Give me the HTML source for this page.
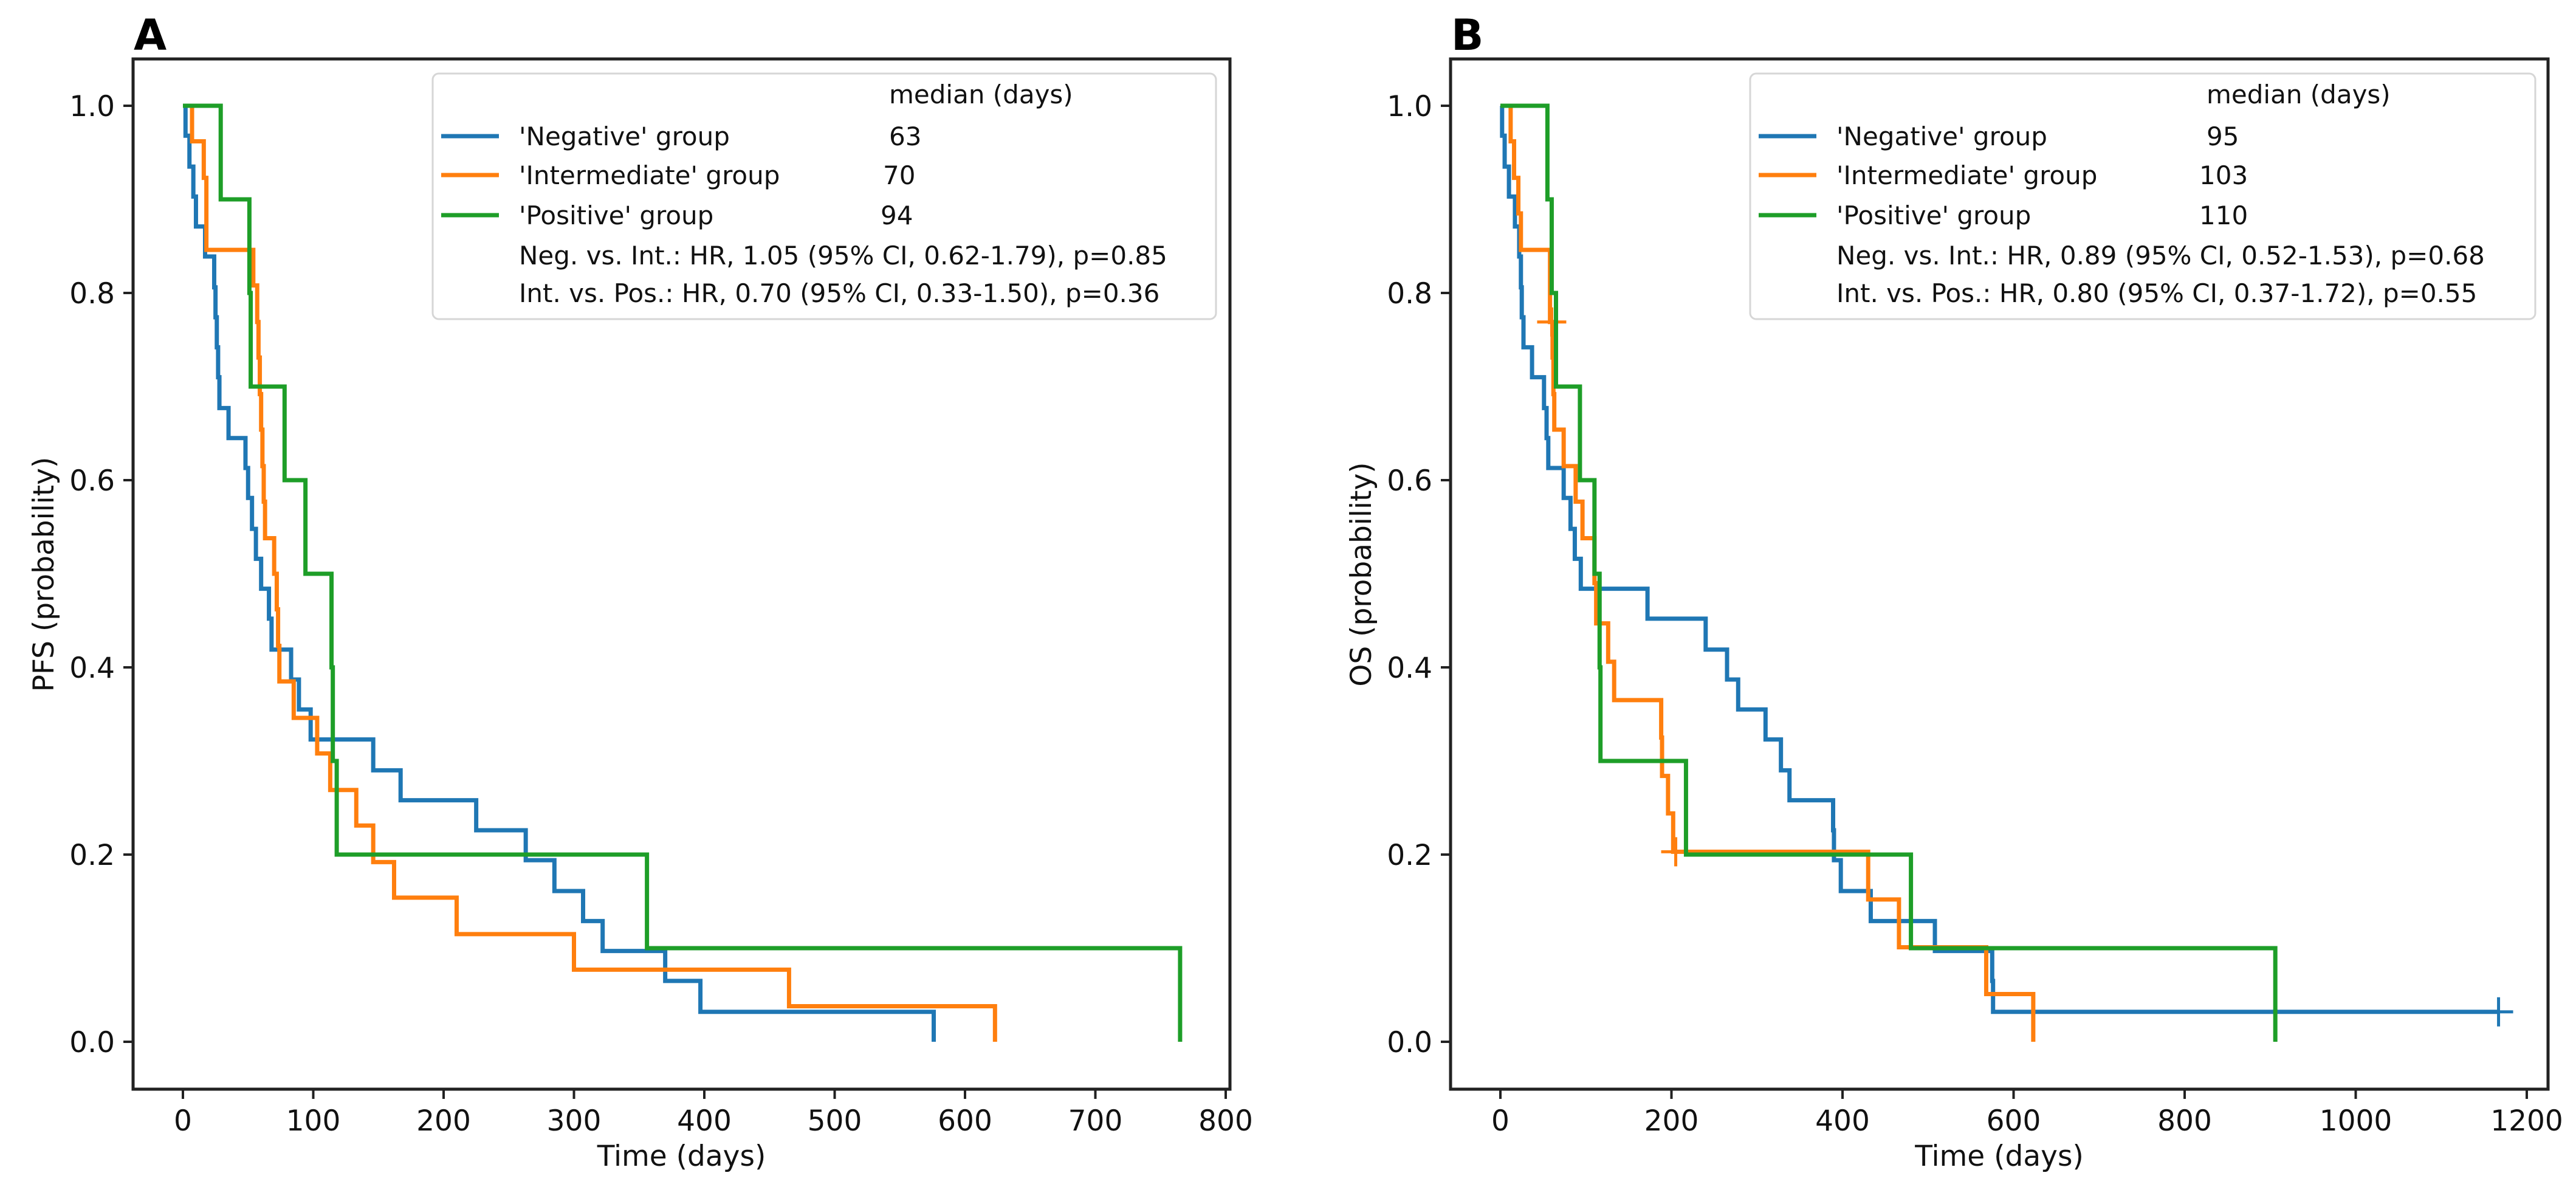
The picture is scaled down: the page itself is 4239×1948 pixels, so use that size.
<!DOCTYPE html>
<html><head><meta charset="utf-8"><style>
html,body{margin:0;padding:0;background:#fff;}
svg{display:block;font-family:"DejaVu Sans","Liberation Sans",sans-serif;}
</style></head><body>
<svg id="fig" width="4239" height="1948" viewBox="0 0 4239 1948" xmlns="http://www.w3.org/2000/svg"></svg>
<script>
// ---------- data ----------
const yTicks = [0.0, 0.2, 0.4, 0.6, 0.8, 1.0];
const yTickLabels = ["0.0","0.2","0.4","0.6","0.8","1.0"];
const aXTicks = [0,100,200,300,400,500,600,700,800];
const bXTicks = [0,200,400,600,800,1000,1200];

// Panel A (PFS)
const aNegT = [2,5,8,10,17,24,25,26,27,28,35,48,50,53,56,60,66,68,83,89,98,146,167,225,263,285,307,322,370,397,576];
const aNegS = [0.968,0.935,0.903,0.871,0.839,0.806,0.774,0.742,0.710,0.677,0.645,0.613,0.581,0.548,0.516,0.484,0.452,0.419,0.387,0.355,0.323,0.290,0.258,0.226,0.194,0.161,0.129,0.097,0.065,0.032,0.0];
const aIntT = [7,16,18,54,57,58,59,60,61,62,63,70,72,73,74,85,103,113,133,146,162,210,300,465,623];
const aIntS = [0.962,0.923,0.846,0.808,0.769,0.731,0.692,0.654,0.615,0.577,0.538,0.500,0.462,0.423,0.385,0.346,0.308,0.269,0.231,0.192,0.154,0.115,0.077,0.038,0.0];
const aPosT = [29,51,52,78,94,114,115,118,356,765];
const aPosS = [0.9,0.8,0.7,0.6,0.5,0.4,0.3,0.2,0.1,0.0];

// Panel B (OS)
const bNegT = [2,5,10,17,22,24,25,27,37,51,54,56,74,82,87,94,172,240,265,278,310,328,338,389,390,398,433,508,575,576];
const bNegS = [0.968,0.935,0.903,0.871,0.839,0.806,0.774,0.742,0.710,0.677,0.645,0.613,0.581,0.548,0.516,0.484,0.452,0.419,0.387,0.355,0.323,0.290,0.258,0.226,0.194,0.161,0.129,0.097,0.065,0.032];
const bNegEnd = 1167;
const bNegCensorT = [1167];
const bNegCensorS = [0.032];
const bIntT = [12,16,21,24,58,61,62,63,74,88,96,110,112,126,133,188,189,196,202,430,466,568,623];
const bIntS = [0.962,0.923,0.885,0.846,0.769,0.731,0.692,0.654,0.615,0.577,0.538,0.490,0.447,0.406,0.365,0.325,0.284,0.244,0.203,0.152,0.101,0.051,0.0];
const bIntCensorT = [60,205];
const bIntCensorS = [0.769,0.203];
const bPosT = [55,60,65,93,110,116,117,217,480,906];
const bPosS = [0.9,0.8,0.7,0.6,0.5,0.4,0.3,0.2,0.1,0.0];

const colors = {neg:"#1f77b4", int:"#ff7f0e", pos:"#1e9e28"};
const NS = "http://www.w3.org/2000/svg";
const svg = document.getElementById('fig');

function mk(tag, attrs, parent){
  const e = document.createElementNS(NS, tag);
  for (const k in attrs) e.setAttribute(k, attrs[k]);
  (parent||svg).appendChild(e);
  return e;
}

function makePanel(cfg){
  const g = mk('g', {});
  
  
  const xs = d => cfg.x0 + d*cfg.xk;
  const ys = s => cfg.y0 - s*1540;

  cfg.series.forEach(se => {
    let d = 'M' + xs(0) + ' ' + ys(1);
    for (let i=0;i<se.t.length;i++){
      d += ' H' + xs(se.t[i]) + ' V' + ys(se.s[i]);
    }
    if (se.end !== undefined) d += ' H' + xs(se.end);
    const p = mk('path', {d:d, fill:'none', stroke:se.color, 'stroke-width':7, 'stroke-linejoin':'miter'}, g);
    
    
    if (se.ct){
      for (let i=0;i<se.ct.length;i++){
        const cx = xs(se.ct[i]), cy = ys(se.cs[i]);
        const c = mk('path', {d:'M'+(cx-24)+' '+cy+' H'+(cx+24)+' M'+cx+' '+(cy-24)+' V'+(cy+24), stroke:se.color, 'stroke-width':5, fill:'none'}, g);
        
        
      }
    }
  });

  const fr = mk('rect', {x:cfg.left, y:97, width:cfg.right-cfg.left, height:1792-97, fill:'none', stroke:'#222', 'stroke-width':5}, g);
  
  

  yTicks.forEach((v,i) => {
    const y = ys(v);
    mk('line', {x1:cfg.left-16, x2:cfg.left, y1:y, y2:y, stroke:'#222', 'stroke-width':4}, g);
    const t = mk('text', {x:cfg.left-30, y:y+17, 'font-size':47, 'text-anchor':'end', fill:'#111'}, g);
    t.textContent = yTickLabels[i];
    
    
  });
  cfg.xticks.forEach(v => {
    const x = xs(v);
    mk('line', {x1:x, x2:x, y1:1792, y2:1808, stroke:'#222', 'stroke-width':4}, g);
    const t = mk('text', {x:x, y:1860, 'font-size':47, 'text-anchor':'middle', fill:'#111'}, g);
    t.textContent = String(v);
    
    
  });
  const xt = mk('text', {x:(cfg.left+cfg.right)/2, y:1918, 'font-size':47, 'text-anchor':'middle', fill:'#111'}, g);
  xt.textContent = 'Time (days)';
  
  
  const yt = mk('text', {x:0, y:0, 'font-size':47, 'text-anchor':'middle', fill:'#111', transform:'translate('+cfg.ylabX+',945) rotate(-90)'}, g);
  yt.textContent = cfg.ylabel;
  
  
  const pl = mk('text', {x:cfg.left+1, y:82, 'font-size':70, 'font-weight':'bold', fill:'#000'}, g);
  pl.textContent = cfg.letter;
  
  

  const lg = mk('g', {}, g);
  
  
  mk('rect', {x:cfg.lgL, y:121, width:cfg.lgR-cfg.lgL, height:404, rx:10, fill:'#fff', 'fill-opacity':0.85, stroke:'#d6d6d6', 'stroke-width':3}, lg);
  const rows = [155,224,288,354,420,482];
  const mh = mk('text', {x:cfg.medX, y:rows[0]+15, 'font-size':42, fill:'#111'}, lg);
  mh.textContent = 'median (days)';
  
  
  cfg.legendRows.forEach((r,i) => {
    const y = rows[i+1];
    const e = mk('g', {}, lg);
    
    
    mk('line', {x1:cfg.lgL+14, x2:cfg.lgL+109, y1:y, y2:y, stroke:r.color, 'stroke-width':7}, e);
    const t = mk('text', {x:cfg.lgL+142, y:y+15, 'font-size':42, fill:'#111'}, e);
    t.textContent = r.label;
    const m = mk('text', {x:cfg.medX + r.dx, y:y+15, 'font-size':42, fill:'#111'}, e);
    m.textContent = r.median;
  });
  cfg.hrRows.forEach((txt,i) => {
    const t = mk('text', {x:cfg.lgL+142, y:rows[4+i]+15, 'font-size':42, fill:'#111', 'xml:space':'preserve'}, lg);
    t.textContent = txt;
    
    
  });
}

makePanel({
  name:'panel-a-pfs', letter:'A', ylabel:'PFS (probability)', ylabX:88,
  left:219, right:2024, x0:301, xk:2.145, y0:1714, xticks:aXTicks,
  lgL:712, lgR:2001, medX:1463,
  series:[
    {name:'negative-curve', color:colors.neg, t:aNegT, s:aNegS},
    {name:'intermediate-curve', color:colors.int, t:aIntT, s:aIntS},
    {name:'positive-curve', color:colors.pos, t:aPosT, s:aPosS}
  ],
  legendRows:[
    {label:"'Negative' group", median:'63', color:colors.neg, dx:0},
    {label:"'Intermediate' group", median:'70', color:colors.int, dx:-10},
    {label:"'Positive' group", median:'94', color:colors.pos, dx:-14}
  ],
  hrRows:["Neg. vs. Int.: HR, 1.05 (95% CI, 0.62-1.79), p=0.85","Int. vs. Pos.:  HR, 0.70 (95% CI, 0.33-1.50), p=0.36"]
});

makePanel({
  name:'panel-b-os', letter:'B', ylabel:'OS (probability)', ylabX:2256,
  left:2387, right:4193, x0:2469, xk:1.4075, y0:1714, xticks:bXTicks,
  lgL:2880, lgR:4172, medX:3631,
  series:[
    {name:'negative-curve', color:colors.neg, t:bNegT, s:bNegS, end:bNegEnd, ct:bNegCensorT, cs:bNegCensorS},
    {name:'intermediate-curve', color:colors.int, t:bIntT, s:bIntS, ct:bIntCensorT, cs:bIntCensorS},
    {name:'positive-curve', color:colors.pos, t:bPosT, s:bPosS}
  ],
  legendRows:[
    {label:"'Negative' group", median:'95', color:colors.neg, dx:0},
    {label:"'Intermediate' group", median:'103', color:colors.int, dx:-12},
    {label:"'Positive' group", median:'110', color:colors.pos, dx:-12}
  ],
  hrRows:["Neg. vs. Int.: HR, 0.89 (95% CI, 0.52-1.53), p=0.68","Int. vs. Pos.:  HR, 0.80 (95% CI, 0.37-1.72), p=0.55"]
});
</script>
</body></html>
